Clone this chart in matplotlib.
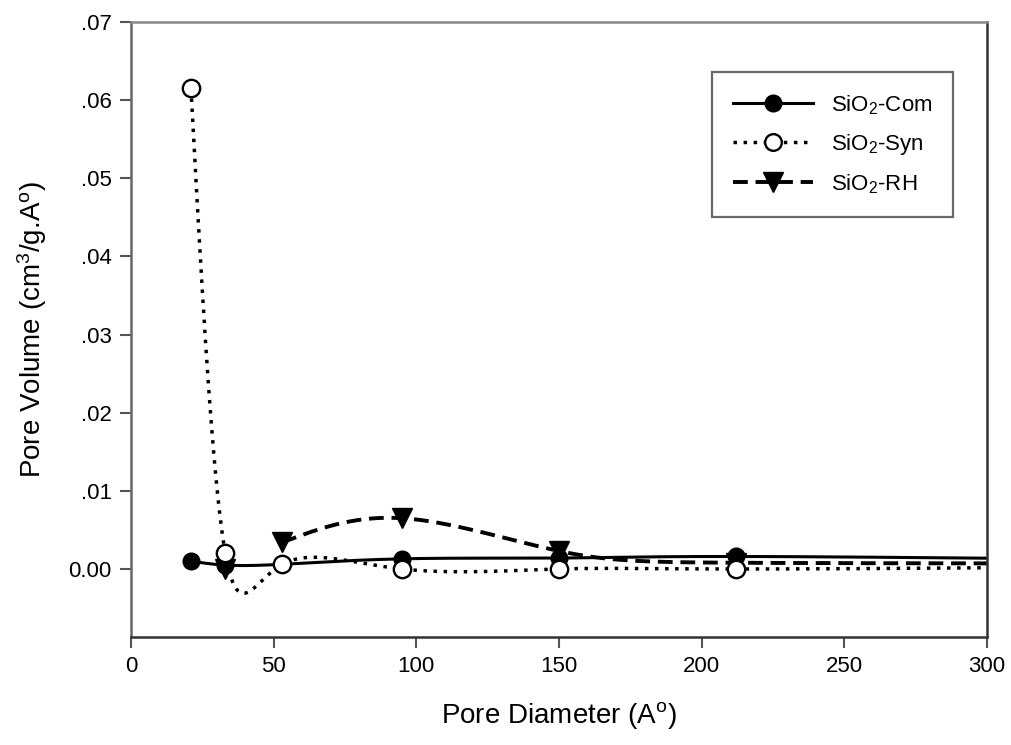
import numpy as np
import matplotlib
matplotlib.use("Agg")
import matplotlib.pyplot as plt

plt.rcParams['font.family'] = ['Liberation Sans', 'DejaVu Sans']
plt.rcParams['mathtext.default'] = 'regular'

# Data (last point lies beyond the visible x range)
com_x = [21, 33, 53, 95, 150, 212, 350]
com_y = [0.0010, 0.0005, 0.0006, 0.0013, 0.0014, 0.0016, 0.0012]
syn_x = [21, 33, 53, 95, 150, 212, 350]
syn_y = [0.0615, 0.0021, 0.0006, 0.0, 0.0, 0.0, 0.0003]
rh_x = [33, 53, 95, 150, 212, 350]
rh_y = [0.0, 0.0034, 0.0065, 0.0023, 0.0008, 0.0007]

x_ticks = [0, 50, 100, 150, 200, 250, 300]
y_ticks = [0.0, 0.01, 0.02, 0.03, 0.04, 0.05, 0.06, 0.07]
y_tick_labels = ['0.00', '.01', '.02', '.03', '.04', '.05', '.06', '.07']


def natural_coeffs(t, v):
    t = np.asarray(t, float)
    v = np.asarray(v, float)
    m = len(t)
    h = np.diff(t)
    A = np.zeros((m, m))
    b = np.zeros(m)
    A[0, 0] = 1
    A[-1, -1] = 1
    for i in range(1, m - 1):
        A[i, i - 1] = h[i - 1]
        A[i, i] = 2 * (h[i - 1] + h[i])
        A[i, i + 1] = h[i]
        b[i] = 3 * ((v[i + 1] - v[i]) / h[i] - (v[i] - v[i - 1]) / h[i - 1])
    c = np.linalg.solve(A, b)
    return t, v, h, c


def eval_spline(coef, tq):
    t, v, h, c = coef
    m = len(t)
    out = np.empty_like(tq)
    for k, tv in enumerate(tq):
        i = int(np.clip(np.searchsorted(t, tv, side='right') - 1, 0, m - 2))
        bb = (v[i + 1] - v[i]) / h[i] - h[i] * (2 * c[i] + c[i + 1]) / 3
        d = (c[i + 1] - c[i]) / (3 * h[i])
        dt = tv - t[i]
        out[k] = v[i] + bb * dt + c[i] * dt ** 2 + d * dt ** 3
    return out


def param_spline(x, y, n=600):
    # parametric natural cubic spline over point index (uniform knots)
    t = np.arange(len(x), dtype=float)
    tq = np.linspace(0, len(x) - 1, n)
    return eval_spline(natural_coeffs(t, x), tq), eval_spline(natural_coeffs(t, y), tq)


fig = plt.figure(figsize=(10.11, 7.45), dpi=100)
ax = fig.add_axes([0.1296, 0.145, 0.8467, 0.8255])

ms = 12
dot_ls = (0, (1, 1.9))
dash_ls = (0, (3.8, 2.0))
# Com
sx, sy = param_spline(com_x, com_y)
ax.plot(sx, sy, color='black', lw=2.2, ls='-', zorder=2)
ax.plot(com_x, com_y, ls='none', marker='o', ms=ms, mfc='black', mec='black', zorder=3)
# Syn
sx, sy = param_spline(syn_x, syn_y)
ax.plot(sx, sy, color='black', lw=2.5, ls=dot_ls, zorder=2)
ax.plot(syn_x, syn_y, ls='none', marker='o', ms=ms + 0.5, mfc='white', mec='black', mew=1.7, zorder=4)
# RH (line starts at the second point)
sx, sy = param_spline(rh_x[1:], rh_y[1:])
ax.plot(sx, sy, color='black', lw=2.8, ls=dash_ls, zorder=2)
ax.plot(rh_x, rh_y, ls='none', marker='v', ms=ms + 2, mfc='black', mec='black', zorder=3)

# Legend handles
h1, = ax.plot([], [], color='black', lw=2.2, ls='-', marker='o', ms=ms, mfc='black', mec='black')
h2, = ax.plot([], [], color='black', lw=2.5, ls=dot_ls, marker='o', ms=ms, mfc='white', mec='black', mew=1.7)
h3, = ax.plot([], [], color='black', lw=2.8, ls=dash_ls, marker='v', ms=ms + 2, mfc='black', mec='black')
leg = fig.legend([h1, h2, h3], ['SiO$_2$-Com', 'SiO$_2$-Syn', 'SiO$_2$-RH'],
                 loc='upper left', bbox_to_anchor=(712 / 1011, 1 - 72 / 745), fontsize=16,
                 frameon=True, fancybox=False, edgecolor='#444444', handlelength=3.6,
                 borderpad=0.95, labelspacing=0.68, handletextpad=0.8, borderaxespad=0)
leg.get_frame().set_linewidth(1.6)

ax.set_xlim(0, 300)
ax.set_ylim(-0.0087, 0.07)
ax.set_xticks(x_ticks)
ax.set_yticks(y_ticks)
ax.set_yticklabels(y_tick_labels)
ax.tick_params(direction='out', length=8, width=1.5, color='#555555', labelsize=16, pad=6)

ax.spines['top'].set_color('#888888')
ax.spines['right'].set_color('#333333')
ax.spines['left'].set_color('#666666')
ax.spines['bottom'].set_color('#333333')
for s in ax.spines.values():
    s.set_linewidth(1.8)

ax.set_xlabel('Pore Diameter (A$^o$)', fontsize=20, labelpad=16)
ax.set_ylabel('Pore Volume (cm$^3$/g.A$^o$)', fontsize=20, labelpad=14)

fig.savefig('out.png', dpi=100)
